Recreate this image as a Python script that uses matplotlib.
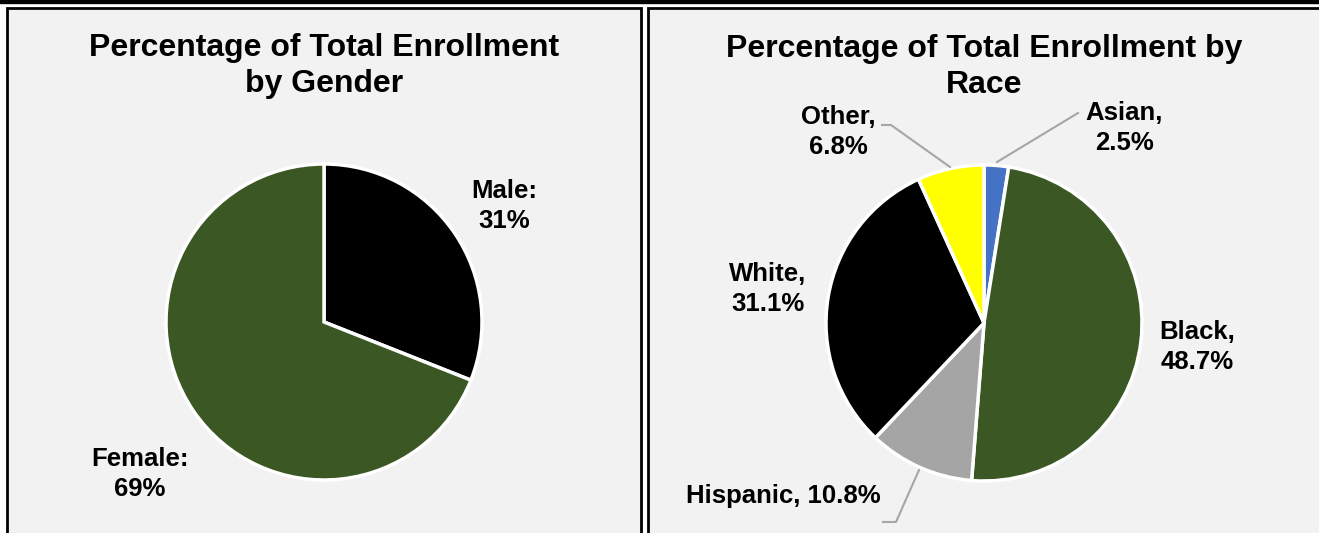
import matplotlib.pyplot as plt
from matplotlib.patches import Rectangle

plt.rcParams['font.family'] = ['Liberation Sans', 'DejaVu Sans']

# gender data
gender_labels = ['Male', 'Female']
gender_pct = [31, 69]
gender_colors = ['#000000', '#3a5724']

# race data
race_labels = ['Asian', 'Black', 'Hispanic', 'White', 'Other']
race_pct = [2.5, 48.7, 10.8, 31.1, 6.8]
race_colors = ['#4472c4', '#3a5724', '#a5a5a5', '#000000', '#ffff00']

W, H = 1319, 533
fig = plt.figure(figsize=(W / 100, H / 100), dpi=100)
fig.patch.set_facecolor('white')
ax = fig.add_axes([0, 0, 1, 1])
ax.set_xlim(0, W)
ax.set_ylim(0, H)
ax.set_aspect('equal')
ax.axis('off')

def py(y):
    # pixel row from top -> data y
    return H - y

# top rule and panel frames
ax.add_patch(Rectangle((0, py(3)), W, 3, color='black', zorder=0))
ax.add_patch(Rectangle((7, py(560)), 634, 552, facecolor='#f2f2f2',
                       edgecolor='black', lw=2, zorder=0))
ax.add_patch(Rectangle((648, py(560)), 690, 552, facecolor='#f2f2f2',
                       edgecolor='black', lw=2, zorder=0))

title_kw = dict(fontsize=23, fontweight='bold', ha='center', va='center',
                linespacing=1.3)
lab_kw = dict(fontsize=18.5, fontweight='bold', ha='center', va='center',
              linespacing=1.35)

# left pie
ax.pie(gender_pct, colors=gender_colors, startangle=90, counterclock=False,
       center=(324, py(322)), radius=158, frame=True,
       wedgeprops=dict(edgecolor='white', linewidth=2.5))
ax.text(324, py(66), 'Percentage of Total Enrollment\nby Gender', **title_kw)
ax.text(504, py(206), f'{gender_labels[0]}:\n{gender_pct[0]}%', **lab_kw)
ax.text(140, py(474), f'{gender_labels[1]}:\n{gender_pct[1]}%', **lab_kw)

# right pie
ax.pie(race_pct, colors=race_colors, startangle=90, counterclock=False,
       center=(984, py(323)), radius=158, frame=True,
       wedgeprops=dict(edgecolor='white', linewidth=2.5))
ax.text(984, py(67), 'Percentage of Total Enrollment by\nRace', **title_kw)
ax.text(1124, py(128), f'{race_labels[0]},\n{race_pct[0]}%', **lab_kw)
ax.text(1197, py(347), f'{race_labels[1]},\n{race_pct[1]}%', **lab_kw)
ax.text(783, py(496), f'{race_labels[2]}, {race_pct[2]}%', **lab_kw)
ax.text(768, py(289), f'{race_labels[3]},\n{race_pct[3]}%', **lab_kw)
ax.text(838, py(132), f'{race_labels[4]},\n{race_pct[4]}%', **lab_kw)

# leader lines
lc = dict(color='#a6a6a6', lw=1.5, zorder=5)
ax.plot([997, 1078], [py(162), py(113)], **lc)
ax.plot([950, 891, 882], [py(167), py(125), py(125)], **lc)
ax.plot([919, 896, 883], [py(470), py(522), py(522)], **lc)

ax.set_xlim(0, W)
ax.set_ylim(0, H)
ax.axis('off')

fig.savefig('out.png', dpi=100)
